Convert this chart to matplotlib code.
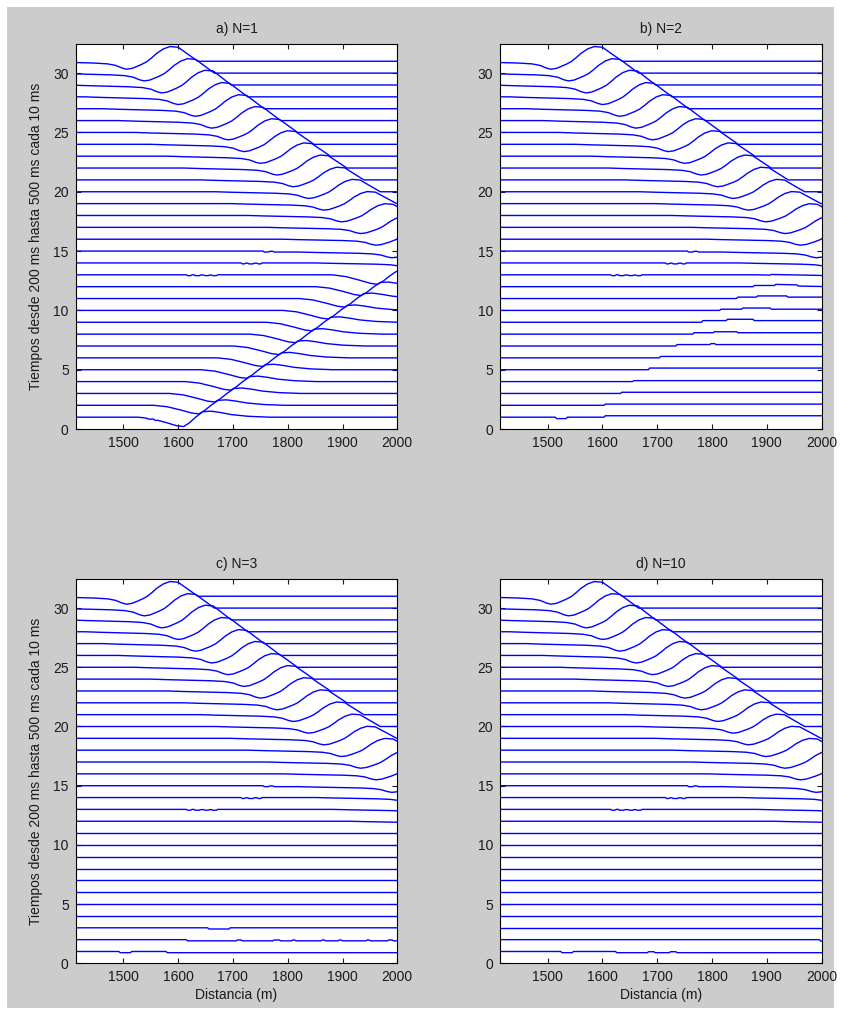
import numpy as np
import matplotlib
matplotlib.use('Agg')
import matplotlib.pyplot as plt
from matplotlib.patches import Rectangle

plt.rcParams['font.family'] = ['Liberation Sans', 'DejaVu Sans']

X_MIN, X_MAX = 1413, 2000
Y_MAX = 32.45
TRACES = list(range(1, 32))   # one trace every 10 ms, baseline = trace number

# upper wave (leftward moving), the same in the four panels
UP_TRACE = [31, 30, 29, 28, 27, 26, 25, 24, 23, 22, 21, 20, 19, 18, 17, 16, 15, 14, 13, 12]
UP_TROUGH = [1506, 1538, 1570, 1600, 1631, 1661, 1691, 1720, 1750, 1780,
             1810, 1838, 1866, 1898, 1933, 1961, 1990, 2022, 2052, 2082]
UP_SCALE = [1.0, 0.98, 1.0, 0.97, 0.95, 0.95, 0.93, 0.92, 0.9, 0.88,
            0.86, 0.84, 0.82, 0.8, 0.78, 0.75, 0.72, 0.7, 0.7, 0.7]
UP_END = [1636, 1666, 1697, 1727, 1757, 1787, 1818, 1848, 1878, 1908,
          1939, 1969, 1999, 2030, 2060, 2090, 2120, 2150, 2180, 2210]

# wavelet: distance to trough (m), offset
WAVE_DX = [-170, -140, -100, -60, -35, -20, -8, 0, 10, 18, 28, 37, 46, 55, 67, 79, 94]
WAVE_DY = [0, -0.05, -0.1, -0.15, -0.22, -0.35, -0.58, -0.67, -0.6, -0.45, -0.25,
           -0.03, 0.3, 0.67, 1.04, 1.24, 1.18]

# lower wave (rightward moving), only in panel a
LOW_TRACE = [1, 2, 3, 4, 5, 6, 7, 8, 9, 10, 11, 12, 13]
LOW_CROSS = [1632, 1660, 1689, 1718, 1747, 1776, 1806, 1836, 1866, 1896, 1926, 1956, 1986]
LOW_SCALE = [1.1, 1.0, 1.0, 1.0, 1.0, 1.0, 1.0, 1.0, 1.0, 1.0, 1.0, 1.0, 1.0]
LOW_DX = [-105, -80, -55, -35, -22, -12, 0, 13, 28, 45, 65, 95, 135]
LOW_DY = [0, -0.12, -0.4, -0.65, -0.72, -0.45, 0, 0.42, 0.46, 0.36, 0.2, 0.07, 0]

# small steps (x where the level changes, new level)
NOTCHES = {
    13: [(1616, -0.07), (1624, 0), (1630, -0.07), (1640, -0.02), (1648, -0.07),
         (1656, -0.02), (1662, -0.07), (1671, 0)],
    14: [(1716, -0.08), (1722, -0.02), (1728, -0.08), (1738, -0.02), (1745, -0.08), (1752, 0)],
    15: [(1756, -0.08), (1766, -0.02), (1774, -0.08)],
}
STEPS_A = {1: [(1543, -0.05), (1552, 0), (1556, -0.05), (1561, 0)]}
STEPS_B = {
    1: [(1515, -0.12), (1535, 0), (1604, 0.12)],
    2: [(1604, 0.1)],
    3: [(1634, 0.1)],
    4: [(1656, 0.08)],
    5: [(1685, 0.14)],
    6: [(1705, 0.12)],
    7: [(1735, 0.12), (1797, 0.2), (1806, 0.12)],
    8: [(1766, 0.12), (1803, 0.2), (1846, 0.12)],
    9: [(1782, 0.14), (1827, 0.25), (1876, 0.14)],
    10: [(1815, 0.1), (1855, 0.2), (1907, 0.1)],
    11: [(1846, 0.12), (1882, 0.22), (1937, 0.12)],
    12: [(1876, 0.1), (1915, 0.2), (1956, 0.1)],
    13: [(1907, 0.06)],
}
STEPS_C = {
    1: [(1493, -0.1), (1514, 0), (1579, -0.1)],
    2: [(1616, -0.1), (1707, -0.03), (1716, -0.1), (1774, -0.03), (1786, -0.1),
        (1808, -0.03), (1814, -0.1), (1862, -0.03), (1868, -0.1), (1893, -0.03),
        (1899, -0.1), (1944, -0.03), (1950, -0.1), (1983, -0.03), (1992, -0.1)],
    3: [(1655, -0.1), (1694, 0)],
}
STEPS_D = {
    1: [(1525, -0.1), (1546, 0), (1625, -0.1), (1683, -0.02), (1695, -0.1),
        (1723, -0.02), (1735, -0.1)],
    2: [(1997, -0.12)],
}

TITLES = ['a) N=1', 'b) N=2', 'c) N=3', 'd) N=10']
PANEL_STEPS = [STEPS_A, STEPS_B, STEPS_C, STEPS_D]
YTICKS = [0, 5, 10, 15, 20, 25, 30]
XTICKS = [1500, 1600, 1700, 1800, 1900, 2000]


def step_knots(steps):
    xs, ys, lev = [X_MIN - 300], [0.0], 0.0
    for x, v in steps:
        xs += [x - 1.2, x + 1.2]
        ys += [lev, v]
        lev = v
    xs.append(X_MAX + 300)
    ys.append(lev)
    return np.array(xs, float), np.array(ys, float)


def build_panel(steps, with_low):
    comps = {k: [] for k in TRACES}
    for k, t, s, e in zip(UP_TRACE, UP_TROUGH, UP_SCALE, UP_END):
        xs = [t + d for d in WAVE_DX] + [e]
        ys = [s * v for v in WAVE_DY] + [0.0]
        comps[k].append((np.array(xs, float), np.array(ys)))
    if with_low:
        for k, c, s in zip(LOW_TRACE, LOW_CROSS, LOW_SCALE):
            xs = np.array([c + d for d in LOW_DX], float)
            comps[k].append((xs, s * np.array(LOW_DY)))
    for tbl in (NOTCHES, steps):
        for k, st in tbl.items():
            comps[k].append(step_knots(st))
    return comps


fig = plt.figure(figsize=(8.41, 10.15), dpi=100, facecolor='white')
fig.patches.append(Rectangle((7 / 841, 7 / 1015), 827 / 841, 1001 / 1015,
                             transform=fig.transFigure, facecolor='#cccccc',
                             edgecolor='none', zorder=-10))

positions = [[0.090, 0.5773, 0.3824, 0.3793], [0.5945, 0.5773, 0.3825, 0.3793],
             [0.090, 0.0509, 0.3824, 0.3786], [0.5945, 0.0509, 0.3825, 0.3786]]

for i in range(4):
    ax = fig.add_axes(positions[i])
    comps = build_panel(PANEL_STEPS[i], i == 0)
    for k in TRACES:
        grid = np.unique(np.concatenate([[X_MIN, X_MAX]] + [c[0] for c in comps[k]]))
        grid = grid[(grid >= X_MIN) & (grid <= X_MAX)]
        off = np.zeros_like(grid)
        for cx, cy in comps[k]:
            off += np.interp(grid, cx, cy)
        ax.plot(grid, k + off, color='#0000ff', lw=1.0, solid_joinstyle='round')
    ax.set_xlim(X_MIN, X_MAX)
    ax.set_ylim(0, Y_MAX)
    ax.set_xticks(XTICKS)
    ax.set_yticks(YTICKS)
    ax.tick_params(direction='in', top=True, right=True, length=3.5, width=0.8,
                   labelsize=10, pad=5, colors='#1a1a1a')
    for sp in ax.spines.values():
        sp.set_linewidth(0.8)
    ax.set_title(TITLES[i], fontsize=10, pad=8, color='#1a1a1a')
    if i % 2 == 0:
        ax.set_ylabel('Tiempos desde 200 ms hasta 500 ms cada 10 ms', fontsize=10,
                      labelpad=7, color='#1a1a1a')
    if i >= 2:
        ax.set_xlabel('Distancia (m)', fontsize=10, labelpad=3, color='#1a1a1a')

fig.savefig('out.png', dpi=100, facecolor=fig.get_facecolor())
